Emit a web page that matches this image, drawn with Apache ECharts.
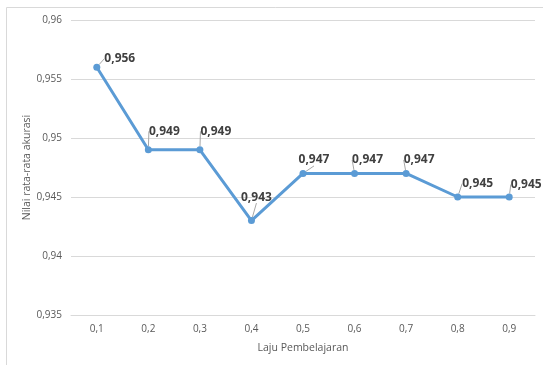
<!DOCTYPE html>
<html>
<head>
<meta charset="utf-8">
<script src="https://cdn.jsdelivr.net/npm/echarts@6/dist/echarts.min.js"></script>
<style>
  html, body { margin: 0; padding: 0; background: #fff; }
  #chart { width: 543px; height: 365px; }
</style>
</head>
<body>
<div id="chart"></div>
<script>
// Learning rate categories and mean accuracy per rate
const learningRates = ['0,1', '0,2', '0,3', '0,4', '0,5', '0,6', '0,7', '0,8', '0,9'];
const accuracy = [0.956, 0.949, 0.949, 0.943, 0.947, 0.947, 0.947, 0.945, 0.945];
// Label nudges (px) so each value sits up and to the right of its point
const labelDx = [23, 16, 16, 5, 11, 13, 13, 20, 17];
const labelDy = [6, -4, -4, -9, 1, 1, 1, 1, 2];

const chart = echarts.init(document.getElementById('chart'));
const font = 'Open Sans';

chart.setOption({
  animation: false,
  textStyle: { fontFamily: font },
  graphic: [{
    type: 'rect',
    shape: { x: 6.5, y: 7.5, width: 700, height: 500 },
    style: { fill: 'none', stroke: '#d9d9d9', lineWidth: 1 },
    silent: true
  }],
  grid: { left: 71, right: 8, top: 20, bottom: 50, containLabel: false },
  xAxis: {
    type: 'category',
    data: learningRates,
    name: 'Laju Pembelajaran',
    nameLocation: 'middle',
    nameGap: 28,
    nameMoveOverlap: false,
    nameTextStyle: { color: '#595959', fontSize: 10.5, fontFamily: font },
    axisLine: { show: true, lineStyle: { color: '#d9d9d9' } },
    axisTick: { show: false },
    axisLabel: { color: '#595959', fontSize: 10, margin: 9, fontFamily: font }
  },
  yAxis: {
    type: 'value',
    min: 0.935,
    max: 0.96,
    interval: 0.005,
    name: 'Nilai rata-rata akurasi',
    nameLocation: 'middle',
    nameGap: 38,
    nameMoveOverlap: false,
    nameRotate: 90,
    nameTextStyle: { color: '#595959', fontSize: 10.5, fontFamily: font },
    axisLine: { show: false },
    axisTick: { show: false },
    axisLabel: {
      color: '#595959', fontSize: 10, margin: 9, fontFamily: font,
      formatter: v => String(parseFloat(v.toFixed(3))).replace('.', ',')
    },
    splitLine: { lineStyle: { color: '#d9d9d9', width: 1 } }
  },
  series: [{
    type: 'line',
    data: accuracy,
    symbol: 'circle',
    symbolSize: 7,
    lineStyle: { color: '#5b9bd5', width: 3 },
    itemStyle: { color: '#5b9bd5' },
    label: {
      show: true,
      position: 'top',
      distance: 5,
      color: '#404040',
      fontSize: 12,
      fontWeight: 'bold',
      fontFamily: font,
      formatter: p => String(p.value).replace('.', ',')
    },
    labelLine: {
      show: true,
      lineStyle: { color: '#a6a6a6', width: 1 }
    },
    labelLayout: p => ({ dx: labelDx[p.dataIndex], dy: labelDy[p.dataIndex] })
  }]
});
</script>
</body>
</html>
